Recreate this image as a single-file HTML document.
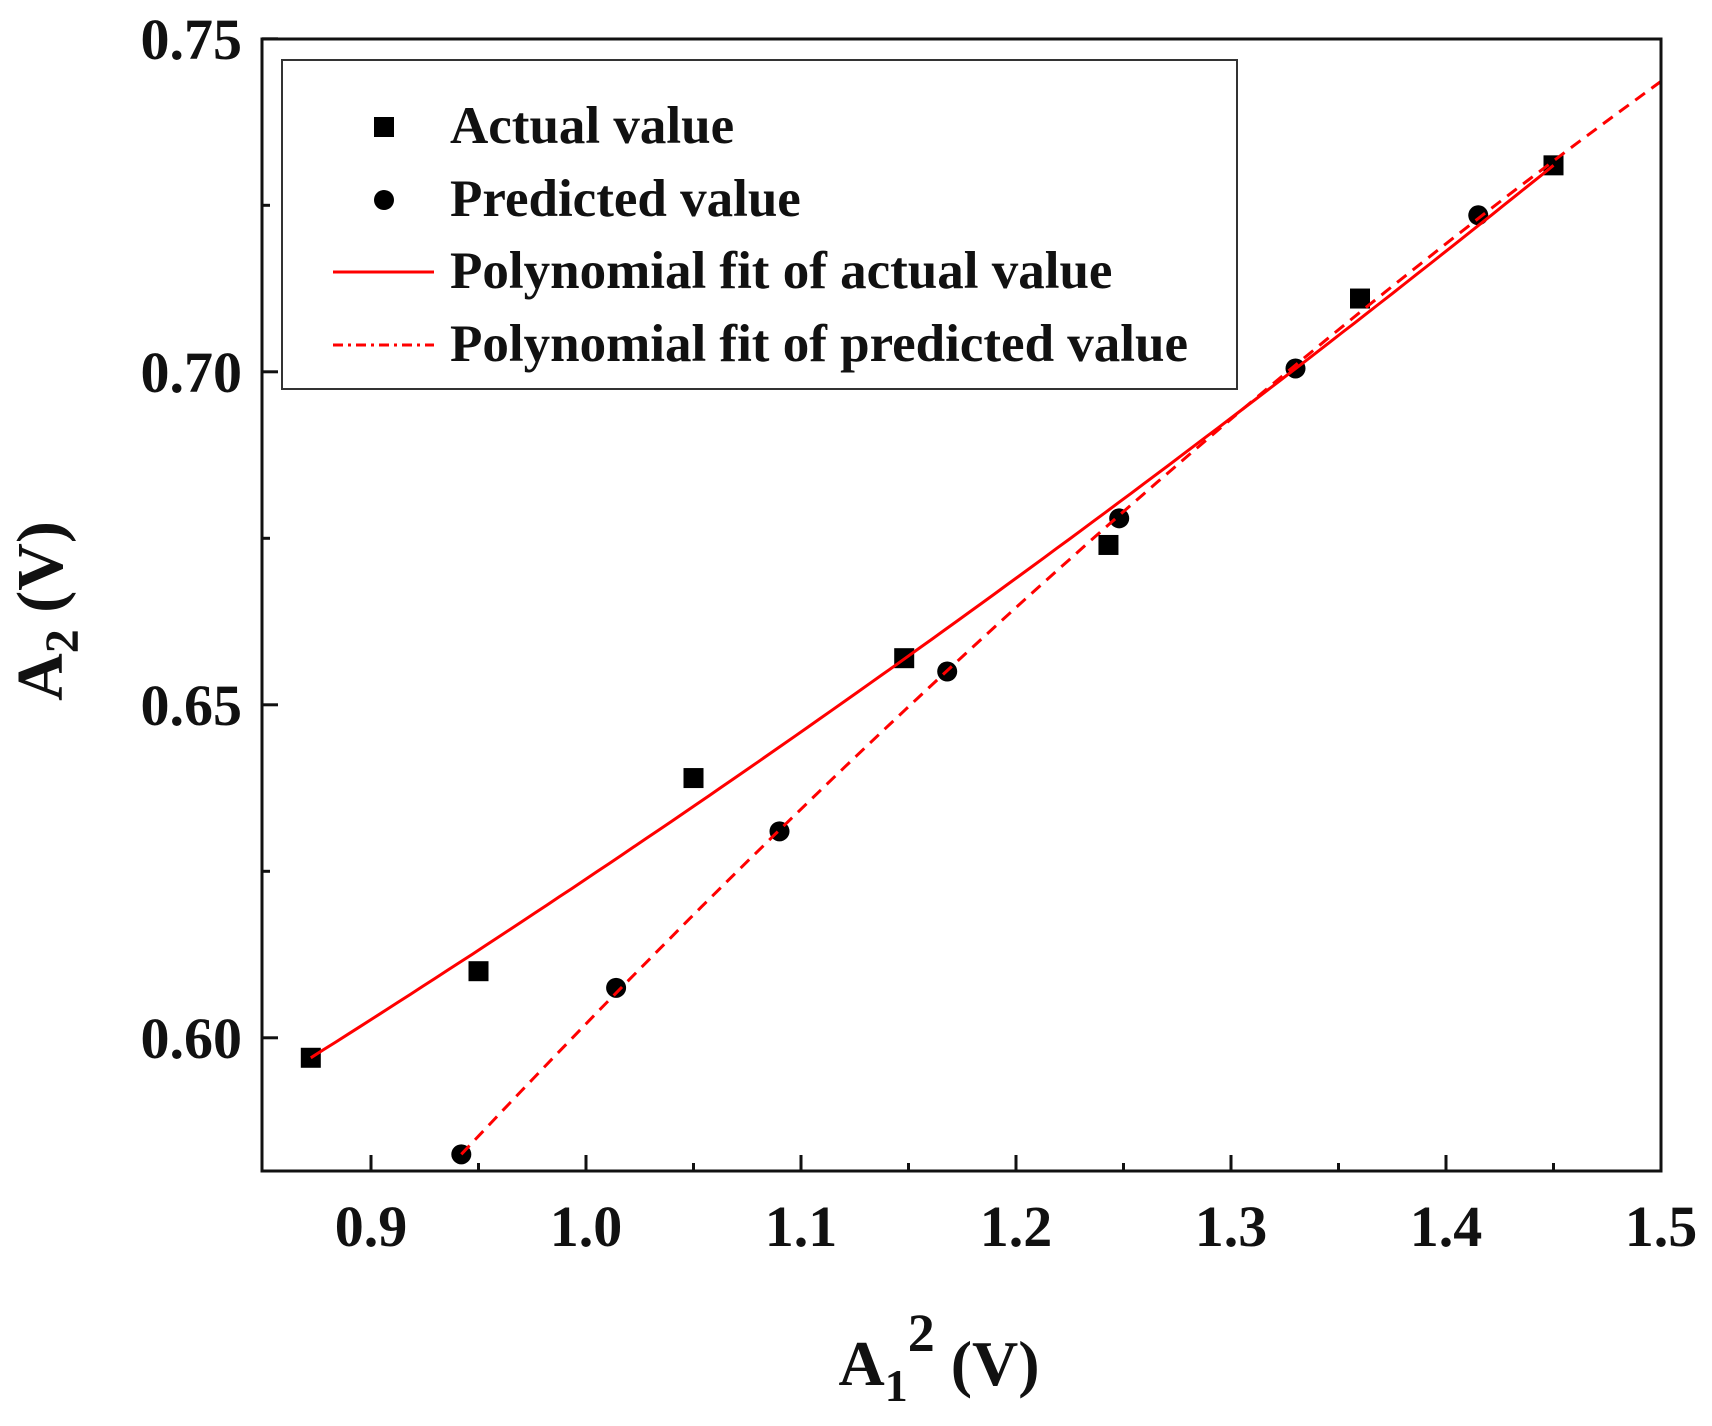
<!DOCTYPE html>
<html><head><style>body{margin:0;background:#fff}svg{display:block}</style></head>
<body>
<svg id="s" width="1712" height="1426" xmlns="http://www.w3.org/2000/svg" font-family="Liberation Serif, serif" font-weight="bold">
<g id="plot"></g>
<rect x="262" y="39" width="1399" height="1132" fill="none" stroke="#111" stroke-width="3"/>
<rect x="282" y="60" width="955" height="329" fill="#fff" stroke="#333" stroke-width="2"/>
<rect x="374" y="117" width="20" height="20" fill="#000"/>
<circle cx="384" cy="200" r="10" fill="#000"/>
<line x1="333" y1="272" x2="434" y2="272" stroke="#f00" stroke-width="3"/>
<line x1="333" y1="345" x2="434" y2="345" stroke="#f00" stroke-width="3" stroke-dasharray="10,5,3,5"/>
<g font-size="53" fill="#111">
<text x="450" y="143">Actual value</text>
<text x="450" y="216">Predicted value</text>
<text x="450" y="288">Polynomial fit of actual value</text>
<text x="450" y="361">Polynomial fit of predicted value</text>
</g>
<g id="ticks" font-size="58" fill="#111"></g>
<text x="939" y="1385" font-size="64" text-anchor="middle" fill="#111">A<tspan font-size="46" dy="16">1</tspan><tspan font-size="54" dy="-50">2</tspan><tspan dy="34"> (V)</tspan></text>
<text transform="translate(62,611) rotate(-90)" font-size="66" text-anchor="middle" fill="#111">A<tspan font-size="48" dy="16">2</tspan><tspan dy="-16"> (V)</tspan></text>
</svg>
<script>
const X=v=>262+(v-0.8493)*2150, Y=v=>1171-(v-0.58)*6660;
const ns="http://www.w3.org/2000/svg",p=document.getElementById('plot'),t=document.getElementById('ticks');
function el(n,a,par){const e=document.createElementNS(ns,n);for(const k in a)e.setAttribute(k,a[k]);(par||p).appendChild(e);return e;}
function quad(P){const[[x0,y0],[x1,y1],[x2,y2]]=P;return x=>y0*(x-x1)*(x-x2)/((x0-x1)*(x0-x2))+y1*(x-x0)*(x-x2)/((x1-x0)*(x1-x2))+y2*(x-x0)*(x-x1)/((x2-x0)*(x2-x1));}
function path(f,a,b){let d="";for(let i=0;i<=100;i++){const x=a+(b-a)*i/100;d+=(i?"L":"M")+X(x).toFixed(1)+","+Y(f(x)).toFixed(1);}return d;}
for(let v=0.9;v<=1.501;v+=0.05){const maj=Math.abs(v*10-Math.round(v*10))<1e-6;el('line',{x1:X(v),x2:X(v),y1:1171,y2:maj?1155:1163,stroke:'#111','stroke-width':3},t);if(maj){const e=el('text',{x:X(v),y:1246,'text-anchor':'middle'},t);e.textContent=v.toFixed(1);}}
for(let v=0.6;v<=0.751;v+=0.025){const maj=Math.abs(v*20-Math.round(v*20))<1e-6;el('line',{x1:262,x2:maj?278:270,y1:Y(v),y2:Y(v),stroke:'#111','stroke-width':3},t);if(maj){const e=el('text',{x:242,y:Y(v)+20,'text-anchor':'end'},t);e.textContent=v.toFixed(2);}}
const sq=[[0.872,0.597],[0.95,0.610],[1.05,0.639],[1.148,0.657],[1.243,0.674],[1.36,0.711],[1.45,0.731]];
const ci=[[0.942,0.5825],[1.014,0.6075],[1.09,0.631],[1.168,0.655],[1.248,0.678],[1.33,0.7005],[1.415,0.7235]];
sq.forEach(([a,b])=>el('rect',{x:X(a)-10,y:Y(b)-10,width:20,height:20,fill:'#000'}));
ci.forEach(([a,b])=>el('circle',{cx:X(a),cy:Y(b),r:10,fill:'#000'}));
el('path',{d:path(quad([[0.872,0.597],[1.2,0.669],[1.45,0.731]]),0.872,1.45),fill:'none',stroke:'#f00','stroke-width':3});
el('path',{d:path(quad([[0.942,0.5825],[1.25,0.679],[1.5,0.7436]]),0.942,1.5),fill:'none',stroke:'#f00','stroke-width':3,'stroke-dasharray':'12,8'});
</script>
</body></html>
